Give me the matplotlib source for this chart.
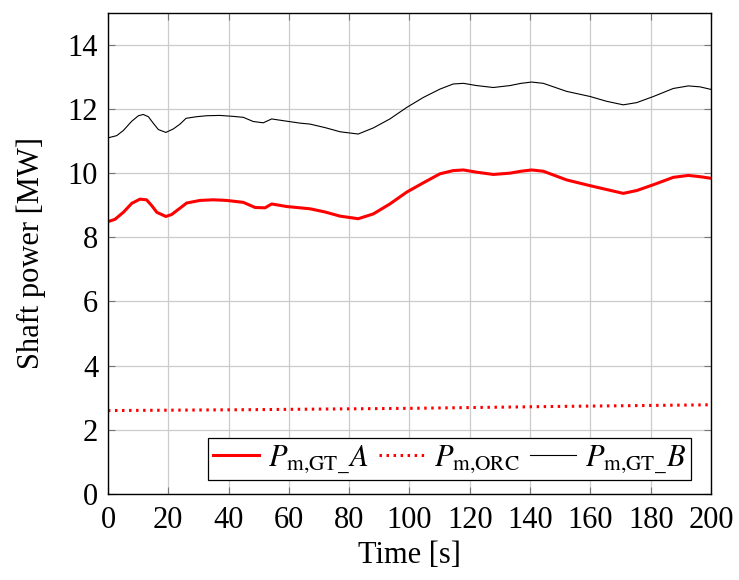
import matplotlib
matplotlib.use("Agg")
import matplotlib.pyplot as plt

# --- data ---
t_b = [0, 2.9, 5.1, 7.9, 10.1, 11.7, 13.4, 15.0, 16.7, 19.2, 21.7, 23.9, 25.9, 29.4, 32.7, 37.1, 41.6,
       44.9, 48.2, 51.5, 54.3, 59.3, 63.7, 67.0, 72.0, 77.0, 83.0, 88.0, 93.5, 99.1, 104.6, 110.1,
       114.5, 117.9, 122.3, 127.8, 133.3, 137.0, 140.5, 144.4, 152.1, 159.9, 165.4, 170.9, 175.4,
       180.9, 187.5, 192.5, 196.4, 200]
p_b = [11.10, 11.17, 11.33, 11.62, 11.79, 11.83, 11.76, 11.56, 11.36, 11.27, 11.38, 11.53, 11.71,
       11.76, 11.79, 11.80, 11.77, 11.74, 11.61, 11.57, 11.69, 11.62, 11.56, 11.53, 11.42, 11.29,
       11.22, 11.41, 11.69, 12.05, 12.36, 12.62, 12.78, 12.80, 12.73, 12.67, 12.73, 12.80, 12.84,
       12.80, 12.55, 12.39, 12.24, 12.13, 12.20, 12.39, 12.64, 12.72, 12.69, 12.61]

t_a = [0, 2.3, 5.1, 7.9, 10.6, 12.8, 14.5, 16.2, 19.2, 21.1, 23.9, 26.1, 30.5, 34.9, 39.4, 44.9, 48.8,
       52.1, 54.3, 59.3, 63.7, 67.0, 72.0, 77.0, 83.0, 88.0, 93.5, 99.1, 104.6, 110.1, 114.5, 117.9,
       122.3, 127.8, 133.3, 137.0, 140.5, 144.4, 152.1, 159.9, 165.4, 170.9, 175.4, 180.9, 187.5,
       192.5, 196.4, 200]
p_a = [8.49, 8.56, 8.78, 9.06, 9.19, 9.17, 8.99, 8.78, 8.65, 8.71, 8.91, 9.07, 9.15, 9.17, 9.15, 9.09,
       8.93, 8.92, 9.04, 8.96, 8.92, 8.89, 8.79, 8.66, 8.58, 8.73, 9.04, 9.41, 9.70, 9.98, 10.08,
       10.10, 10.03, 9.96, 10.00, 10.06, 10.10, 10.06, 9.79, 9.61, 9.49, 9.37, 9.46, 9.64, 9.87,
       9.93, 9.89, 9.84]

t_orc = [0, 50, 100, 150, 200]
p_orc = [2.60, 2.63, 2.67, 2.73, 2.78]

x_ticks = [0, 20, 40, 60, 80, 100, 120, 140, 160, 180, 200]
y_ticks = [0, 2, 4, 6, 8, 10, 12, 14]

labels = [r'$P_{\mathrm{m{,}GT}\_}A$', r'$P_{\mathrm{m{,}ORC}}$', r'$P_{\mathrm{m{,}GT}\_}B$']

plt.rcParams['font.family'] = ['Liberation Serif', 'DejaVu Serif']
plt.rcParams['mathtext.fontset'] = 'stix'

FS = 22
fig = plt.figure(figsize=(7.39, 5.80), dpi=100)
ax = fig.add_axes([0.1461, 0.1483, 0.9621 - 0.1461, 0.978 - 0.1483])

ax.plot(t_a, p_a, color='red', lw=2.2, label=labels[0], solid_joinstyle='round')
ax.plot(t_orc, p_orc, color='red', lw=2.2, ls=(0, (0.8, 1.5)), label=labels[1])
ax.plot(t_b, p_b, color='black', lw=0.8, label=labels[2], solid_joinstyle='round')

ax.set_xlim(0, 200)
ax.set_ylim(0, 15)
ax.set_xticks(x_ticks)
ax.set_yticks(y_ticks)
ax.grid(True, color='#cccccc', lw=0.9)
ax.set_axisbelow(True)
ax.tick_params(direction='in', top=True, right=True, length=5, color='#777777',
               labelsize=FS, pad=7)
ax.tick_params(axis='x', pad=9)
for s in ax.spines.values():
    s.set_linewidth(1.0)
ax.set_xlabel('Time [s]', fontsize=FS, labelpad=4)
ax.set_ylabel('Shaft power [MW]', fontsize=FS, labelpad=16)

leg = ax.legend(loc='lower right', ncol=3, fontsize=FS, frameon=True, fancybox=False,
                edgecolor='black', framealpha=1, handlelength=1.5, handletextpad=0.3,
                columnspacing=0.35, borderpad=0.15, borderaxespad=0.0,
                bbox_to_anchor=(0.967, 0.03))
leg.get_frame().set_linewidth(0.9)

fig.savefig('out.png', dpi=100)
